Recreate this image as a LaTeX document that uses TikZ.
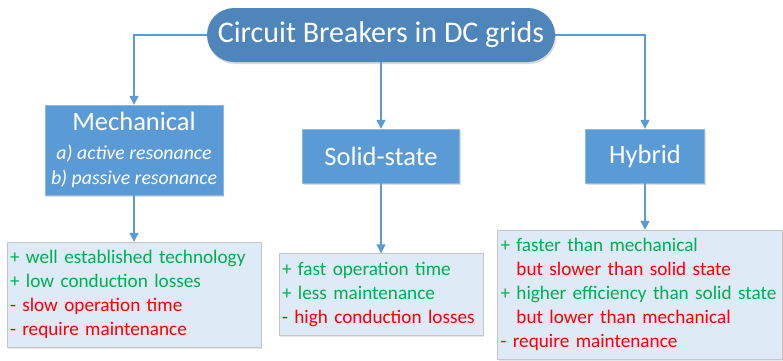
\documentclass[tikz,border=0pt]{standalone}
\usepackage{fontspec}
\setmainfont{Carlito}
\usepackage{xcolor}
\usetikzlibrary{arrows.meta,positioning,shadows}
\definecolor{pillblue}{HTML}{4E86BC}
\definecolor{catblue}{HTML}{5B9BD5}
\definecolor{listblue}{HTML}{DEEAF6}
\definecolor{progreen}{HTML}{00B050}
\definecolor{conred}{HTML}{FF0000}
\newcommand{\pro}[1]{\textcolor{progreen}{#1}}
\newcommand{\con}[1]{\textcolor{conred}{#1}}
\newcommand{\subfont}{\fontsize{19.8}{25}\selectfont\itshape}
\begin{document}
\begin{tikzpicture}[x=1pt, y=-1pt,
  pill/.style={fill=pillblue, text=white, rounded corners=27pt, minimum width=348pt, minimum height=54pt,
    font=\fontsize{30}{34}\selectfont, drop shadow={opacity=0.3, shadow xshift=1pt, shadow yshift=-2pt}},
  cat/.style={fill=catblue, draw=catblue!70!white, text=white, align=center, inner sep=0pt,
    font=\fontsize{26.5}{25}\selectfont, drop shadow={opacity=0.25, shadow xshift=1pt, shadow yshift=-1.5pt}},
  list/.style={fill=listblue, draw=gray!45, align=left, inner xsep=3pt, inner ysep=0pt,
    font=\fontsize{19.2}{24}\selectfont, drop shadow={opacity=0.2, shadow xshift=1pt, shadow yshift=-1.5pt}},
  arr/.style={-{Triangle[length=9pt,width=9pt]}, draw=catblue, line width=1.4pt}
]
\useasboundingbox (0,0) rectangle (783,360);
\node[pill] (title) at (381,35) {Circuit Breakers in DC grids};
\node[cat, minimum width=178pt, minimum height=90pt] (mech) at (134,150)
  {Mechanical\\[4pt]\subfont a) active resonance\\\subfont b) passive resonance};
\node[cat, minimum width=157pt, minimum height=54pt] (solid) at (381,156) {Solid-state};
\node[cat, minimum width=119pt, minimum height=54pt] (hybrid) at (645,156) {Hybrid};

\node[list, minimum width=254pt, minimum height=105pt, text width=248pt] (mechpro) at (134,294.5)
  {\pro{+ well established technology}\\\pro{+ low conduction losses}\\\con{- slow operation time}\\\con{- require maintenance}};
\node[list, minimum width=204pt, minimum height=82pt, text width=198pt] (solidpro) at (381,294.5)
  {\pro{+ fast operation time}\\\pro{+ less maintenance}\\\con{- high conduction losses}};
\node[list, minimum width=285pt, minimum height=129pt, text width=279pt] (hybpro) at (640,294.5)
  {\pro{+ faster than mechanical}\\\phantom{+ }\con{but slower than solid state}\\
   \pro{+ higher efficiency than solid state}\\\phantom{+ }\con{but lower than mechanical}\\\con{- require maintenance}};

\draw[arr] (title.west) -| (mech.north);
\draw[arr] (title.south) -- (solid.north);
\draw[arr] (title.east) -| (hybrid.north);
\draw[arr] (mech.south) -- (mechpro.north);
\draw[arr] (solid.south) -- (solidpro.north);
\draw[arr] (hybrid.south) -- (hybrid.south |- hybpro.north);
\end{tikzpicture}
\end{document}
